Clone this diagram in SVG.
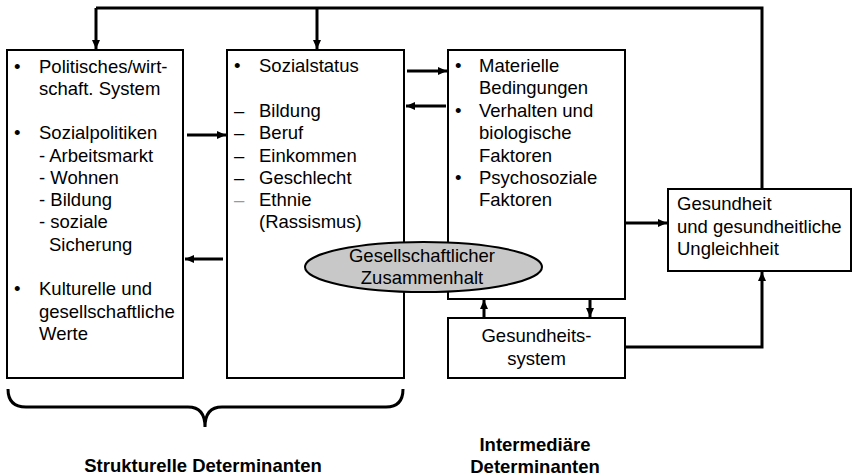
<svg xmlns="http://www.w3.org/2000/svg" width="853" height="476" viewBox="0 0 853 476">
<style>
.box{fill:#fff;stroke:#000;stroke-width:2}
.t{font-family:"Liberation Sans",Arial,sans-serif;font-size:18.5px;fill:#000}
.b{font-family:"Liberation Sans",Arial,sans-serif;font-size:18.5px;font-weight:bold;fill:#000}
.c{fill:none;stroke:#000;stroke-width:3}
</style>
<defs>
<marker id="ah" markerUnits="userSpaceOnUse" markerWidth="10" markerHeight="10" viewBox="0 0 10 10" refX="9" refY="5" orient="auto">
<path d="M0,1 L9,5 L0,9 Z" fill="#000"/>
</marker>
</defs>
<g id="connectors">
<path class="c" d="M96,8 H762 V189"/>
<path class="c" d="M96,8 V49" marker-end="url(#ah)"/>
<path class="c" d="M317,8 V49" marker-end="url(#ah)"/>
<path class="c" d="M187,135 H226" marker-end="url(#ah)"/>
<path class="c" d="M223,259 H185" marker-end="url(#ah)"/>
<path class="c" d="M407,71 H447" marker-end="url(#ah)"/>
<path class="c" d="M446,106 H406" marker-end="url(#ah)"/>
<path class="c" d="M626,223 H667" marker-end="url(#ah)"/>
<path class="c" d="M484,318 V300" marker-end="url(#ah)"/>
<path class="c" d="M590,300 V317" marker-end="url(#ah)"/>
<path class="c" d="M626,347 H762 V272" marker-end="url(#ah)"/>
<path class="c" d="M8,389 Q8,407 26,407 H188 Q205,407 205,427 Q205,407 222,407 H386 Q403,407 403,389"/>
</g>
<g id="box1">
<rect class="box" x="7" y="50" width="176" height="328"/>
<text class="t" x="14" y="73">•</text>
<text class="t" x="39" y="73">Politisches/wirt-</text>
<text class="t" x="39" y="95">schaft. System</text>
<text class="t" x="14" y="139">•</text>
<text class="t" x="39" y="139">Sozialpolitiken</text>
<text class="t" x="39" y="162">- Arbeitsmarkt</text>
<text class="t" x="39" y="184">- Wohnen</text>
<text class="t" x="39" y="206">- Bildung</text>
<text class="t" x="39" y="228">- soziale</text>
<text class="t" x="49" y="251">Sicherung</text>
<text class="t" x="14" y="295">•</text>
<text class="t" x="39" y="295">Kulturelle und</text>
<text class="t" x="39" y="318">gesellschaftliche</text>
<text class="t" x="39" y="340">Werte</text>
</g>
<g id="box2">
<rect class="box" x="227" y="50" width="177" height="328"/>
<text class="t" x="234" y="72">•</text>
<text class="t" x="259" y="72">Sozialstatus</text>
<text class="t" x="234" y="117">–</text>
<text class="t" x="259" y="117">Bildung</text>
<text class="t" x="234" y="139">–</text>
<text class="t" x="259" y="139">Beruf</text>
<text class="t" x="234" y="162">–</text>
<text class="t" x="259" y="162">Einkommen</text>
<text class="t" x="234" y="184">–</text>
<text class="t" x="259" y="184">Geschlecht</text>
<text class="t" x="234" y="206" style="fill:#999">–</text>
<text class="t" x="259" y="206">Ethnie</text>
<text class="t" x="259" y="228">(Rassismus)</text>
</g>
<g id="box3">
<rect class="box" x="448" y="50" width="177" height="249"/>
<text class="t" x="455" y="72">•</text>
<text class="t" x="479" y="72">Materielle</text>
<text class="t" x="479" y="94">Bedingungen</text>
<text class="t" x="455" y="117">•</text>
<text class="t" x="479" y="117">Verhalten und</text>
<text class="t" x="479" y="139">biologische</text>
<text class="t" x="479" y="162">Faktoren</text>
<text class="t" x="455" y="184">•</text>
<text class="t" x="479" y="184">Psychosoziale</text>
<text class="t" x="479" y="206">Faktoren</text>
</g>
<g id="box4">
<rect class="box" x="448" y="318" width="177" height="60"/>
<text class="t" x="536.5" y="342" text-anchor="middle">Gesundheits-</text>
<text class="t" x="536.5" y="365" text-anchor="middle">system</text>
</g>
<g id="box5">
<rect class="box" x="668" y="189" width="183" height="82"/>
<text class="t" x="677" y="210">Gesundheit</text>
<text class="t" x="677" y="233">und gesundheitliche</text>
<text class="t" x="677" y="255">Ungleichheit</text>
</g>
<g id="ellipse">
<ellipse cx="423.5" cy="267" rx="118.5" ry="25" fill="#c8c8c8" stroke="#000" stroke-width="2"/>
<text class="t" x="422" y="262" text-anchor="middle">Gesellschaftlicher</text>
<text class="t" x="422" y="284" text-anchor="middle">Zusammenhalt</text>
</g>
<g id="labels">
<text class="b" x="203" y="472" text-anchor="middle">Strukturelle Determinanten</text>
<text class="b" x="535" y="451" text-anchor="middle">Intermediäre</text>
<text class="b" x="535" y="473" text-anchor="middle">Determinanten</text>
</g>
</svg>
